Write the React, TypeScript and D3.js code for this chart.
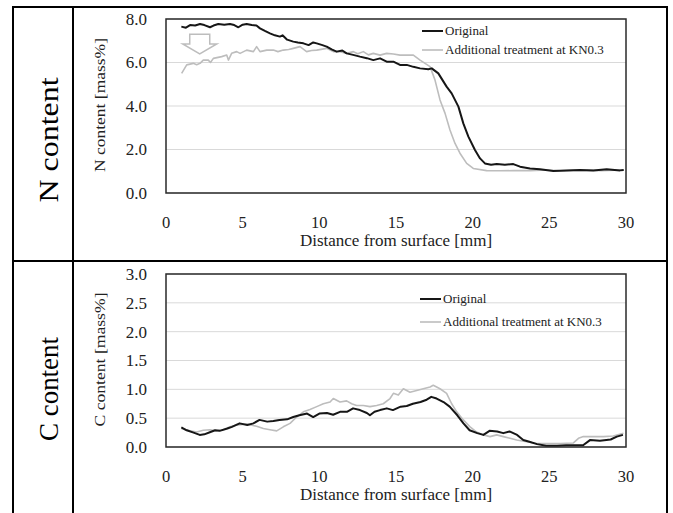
import * as d3 from "d3";

// distance [mm] vs content [mass%]
const nOriginal: [number, number][] = [
  [1.0, 7.65], [1.3, 7.6], [1.57, 7.72], [1.9, 7.7], [2.22, 7.77], [2.5, 7.72], [2.87, 7.62],
  [3.1, 7.7], [3.41, 7.77], [3.8, 7.74], [4.17, 7.77], [4.45, 7.72], [4.72, 7.62], [5.0, 7.74],
  [5.26, 7.77], [5.59, 7.72], [5.9, 7.7], [6.13, 7.57], [6.45, 7.45], [6.78, 7.34], [7.1, 7.25],
  [7.43, 7.19], [7.6, 7.25], [7.9, 7.05], [8.3, 6.96], [8.6, 6.92], [8.96, 6.88], [9.3, 6.8],
  [9.6, 6.92], [9.83, 6.88], [10.2, 6.8], [10.48, 6.73], [10.8, 6.6], [11.13, 6.5], [11.5, 6.55],
  [11.78, 6.42], [12.2, 6.35], [12.65, 6.27], [13.1, 6.2], [13.52, 6.11], [13.96, 6.19],
  [14.39, 6.04], [14.83, 6.04], [15.26, 5.89], [15.7, 5.89], [16.13, 5.8], [16.57, 5.73],
  [17.11, 5.69], [17.33, 5.73], [17.76, 5.5], [18.3, 4.89], [18.63, 4.58], [19.07, 3.97],
  [19.39, 3.2], [19.72, 2.59], [20.15, 1.98], [20.48, 1.59], [20.8, 1.36], [21.2, 1.3],
  [21.57, 1.33], [22.1, 1.3], [22.65, 1.33], [23.09, 1.21], [23.74, 1.13], [24.39, 1.09],
  [25.26, 1.01], [26.13, 1.03], [27.0, 1.06], [27.87, 1.04], [28.74, 1.09], [29.61, 1.04], [29.85, 1.06],
];

const nTreated: [number, number][] = [
  [1.02, 5.5], [1.35, 5.89], [1.78, 5.96], [2.0, 5.9], [2.22, 5.96], [2.43, 6.11], [2.76, 6.11],
  [2.9, 6.0], [3.09, 6.19], [3.63, 6.27], [3.96, 6.34], [4.07, 6.11], [4.28, 6.42], [4.61, 6.5],
  [4.83, 6.42], [5.26, 6.57], [5.7, 6.5], [5.91, 6.73], [6.13, 6.5], [6.57, 6.57], [7.0, 6.57],
  [7.3, 6.5], [7.65, 6.57], [8.0, 6.6], [8.3, 6.65], [8.74, 6.73], [9.17, 6.5], [9.5, 6.55],
  [9.83, 6.57], [10.48, 6.65], [10.91, 6.5], [11.35, 6.5], [11.78, 6.42], [12.22, 6.5],
  [12.5, 6.4], [12.87, 6.5], [13.2, 6.35], [13.52, 6.42], [13.96, 6.34], [14.39, 6.42],
  [14.83, 6.39], [15.26, 6.34], [15.7, 6.34], [16.13, 6.34], [16.57, 6.11], [17.22, 5.81],
  [17.54, 5.2], [17.87, 4.28], [18.2, 3.66], [18.52, 2.9], [18.85, 2.28], [19.17, 1.83],
  [19.61, 1.36], [20.04, 1.13], [20.91, 1.03], [21.8, 1.02], [22.65, 1.03], [23.74, 1.03],
  [24.83, 1.06], [25.7, 1.02], [26.6, 1.04], [27.5, 1.05], [28.4, 1.03], [29.3, 1.05], [29.85, 1.06],
];

const cOriginal: [number, number][] = [
  [1.0, 0.34], [1.35, 0.29], [1.8, 0.25], [2.2, 0.21], [2.5, 0.22], [2.9, 0.26], [3.2, 0.29],
  [3.5, 0.28], [4.0, 0.32], [4.3, 0.35], [4.8, 0.41], [5.3, 0.38], [5.7, 0.41], [6.1, 0.47],
  [6.6, 0.44], [7.0, 0.45], [7.4, 0.47], [7.9, 0.48], [8.3, 0.52], [8.7, 0.55], [9.2, 0.58],
  [9.6, 0.52], [10.0, 0.58], [10.5, 0.59], [10.9, 0.56], [11.35, 0.61], [11.8, 0.61],
  [12.2, 0.67], [12.65, 0.64], [13.1, 0.59], [13.3, 0.55], [13.6, 0.61], [13.96, 0.64],
  [14.4, 0.67], [14.8, 0.64], [15.3, 0.7], [15.7, 0.71], [16.1, 0.75], [16.6, 0.78], [17.0, 0.82],
  [17.3, 0.87], [17.65, 0.84], [18.1, 0.78], [18.5, 0.7], [19.0, 0.55], [19.4, 0.41], [19.8, 0.29],
  [20.3, 0.24], [20.7, 0.21], [21.1, 0.28], [21.6, 0.27], [22.0, 0.24], [22.4, 0.27], [22.9, 0.21],
  [23.3, 0.12], [23.7, 0.09], [24.2, 0.05], [24.8, 0.02], [25.5, 0.02], [26.1, 0.03], [26.8, 0.03],
  [27.2, 0.03], [27.65, 0.12], [28.3, 0.11], [29.0, 0.13], [29.4, 0.18], [29.8, 0.21],
];

const cTreated: [number, number][] = [
  [1.0, 0.32], [1.57, 0.28], [2.0, 0.26], [2.43, 0.29], [2.87, 0.3], [3.3, 0.28], [3.74, 0.3],
  [4.17, 0.35], [4.61, 0.38], [5.26, 0.4], [5.91, 0.36], [6.35, 0.32], [6.78, 0.3], [7.22, 0.28],
  [7.65, 0.35], [8.09, 0.41], [8.52, 0.52], [8.96, 0.61], [9.39, 0.65], [9.83, 0.7], [10.26, 0.75],
  [10.7, 0.78], [10.91, 0.84], [11.35, 0.78], [11.78, 0.8], [12.11, 0.75], [12.43, 0.72],
  [12.87, 0.72], [13.3, 0.7], [13.74, 0.72], [14.17, 0.75], [14.61, 0.84], [14.83, 0.93],
  [15.15, 0.9], [15.48, 1.01], [15.91, 0.95], [16.35, 0.98], [16.78, 1.01], [17.22, 1.04],
  [17.43, 1.07], [17.87, 1.01], [18.3, 0.93], [18.63, 0.75], [18.96, 0.61], [19.39, 0.47],
  [19.83, 0.35], [20.26, 0.26], [20.7, 0.21], [21.13, 0.18], [21.57, 0.21], [22.0, 0.18],
  [22.44, 0.15], [22.87, 0.12], [23.52, 0.09], [24.17, 0.06], [24.83, 0.06], [25.7, 0.06],
  [26.57, 0.07], [26.9, 0.15], [27.22, 0.18], [27.87, 0.18], [28.52, 0.18], [29.17, 0.19], [29.83, 0.24],
];

const xTicks = [0, 5, 10, 15, 20, 25, 30];
const nTicks = [0, 2, 4, 6, 8];
const cTicks = [0, 0.5, 1, 1.5, 2, 2.5, 3];
const legendNames = ["Original", "Additional treatment at KN0.3"];
const lineColors = ["#161616", "#bdbdbd"];
const lineWidths = [2, 1.6];

const SERIF = "Liberation Serif, DejaVu Serif, serif";

type PanelProps = {
  top: number;
  bottom: number;
  yMax: number;
  ticks: number[];
  series: [number, number][][];
  yTitle: string;
  legendY: number[];
  legendX: number;
  arrow?: boolean;
};

const Panel = ({ top, bottom, yMax, ticks, series, yTitle, legendY, legendX, arrow }: PanelProps) => {
  const left = 166, right = 626;
  const x = d3.scaleLinear().domain([0, 30]).range([left, right]);
  const y = d3.scaleLinear().domain([0, yMax]).range([bottom, top]);
  const line = d3.line<[number, number]>().x((d) => x(d[0])).y((d) => y(d[1]));

  // hollow down arrow showing the N drop
  let arrowPath = "";
  if (arrow) {
    const cx = x(2.2), y0 = y(7.3), yh = y(6.85), yt = y(6.4);
    arrowPath = `M${cx - 10},${y0} H${cx + 10} V${yh} H${cx + 17} L${cx},${yt} L${cx - 17},${yh} H${cx - 10} Z`;
  }

  return (
    <g fontFamily={SERIF}>
      {ticks.map((t) => (
        <line key={t} x1={left} x2={right} y1={y(t)} y2={y(t)} stroke="#d9d9d9" strokeWidth={1} />
      ))}
      {arrow && <path d={arrowPath} fill="#fff" stroke="#bdbdbd" strokeWidth={1.5} />}
      {series.map((s, i) => (
        <path key={i} d={line(s) || ""} fill="none" stroke={lineColors[i]} strokeWidth={lineWidths[i]} strokeLinejoin="round" />
      )).reverse()}
      <rect x={left} y={top} width={right - left} height={bottom - top} fill="none" stroke="#2a2a2a" strokeWidth={1.5} />
      {ticks.map((t) => (
        <text key={t} x={147} y={y(t)} dy="0.35em" textAnchor="end" fontSize={17} fill="#222">
          {t.toFixed(1)}
        </text>
      ))}
      {xTicks.map((t) => (
        <text key={t} x={x(t)} y={bottom + 35} textAnchor="middle" fontSize={16.5} fill="#222">
          {t}
        </text>
      ))}
      <text x={(left + right) / 2} y={bottom + 53} textAnchor="middle" fontSize={17} fill="#222">
        Distance from surface [mm]
      </text>
      <text
        transform={`translate(105,${(top + bottom) / 2 - 1}) rotate(-90)`}
        textAnchor="middle"
        fontSize={14}
        textLength={134}
        lengthAdjust="spacingAndGlyphs"
        fill="#222"
      >
        {yTitle}
      </text>
      {legendNames.map((name, i) => (
        <g key={name}>
          <line x1={legendX} x2={legendX + 21} y1={legendY[i]} y2={legendY[i]} stroke={lineColors[i]} strokeWidth={lineWidths[i]} />
          <text x={legendX + 23} y={legendY[i]} dy="0.33em" fontSize={13} fill="#222">
            {name}
          </text>
        </g>
      ))}
    </g>
  );
};

const App = () => {
  return (
    <div style={{ position: "absolute", left: 0, top: 0 }}>
      <svg width={673} height={513} style={{ display: "block" }} fontFamily={SERIF}>
        <rect width={673} height={513} fill="#fff" />
        {/* table frame */}
        <line x1={12} x2={668} y1={7} y2={7} stroke="#000" strokeWidth={2} />
        <line x1={12} x2={668} y1={261} y2={261} stroke="#000" strokeWidth={2} />
        <line x1={13} x2={13} y1={6} y2={513} stroke="#000" strokeWidth={2} />
        <line x1={73} x2={73} y1={6} y2={513} stroke="#000" strokeWidth={2} />
        <line x1={667} x2={667} y1={6} y2={513} stroke="#000" strokeWidth={2} />

        <text transform="translate(58,140) rotate(-90)" textAnchor="middle" fontSize={28} textLength={125} lengthAdjust="spacingAndGlyphs">
          N content
        </text>
        <text transform="translate(58,389) rotate(-90)" textAnchor="middle" fontSize={28} textLength={104} lengthAdjust="spacingAndGlyphs">
          C content
        </text>

        <Panel
          top={19}
          bottom={193}
          yMax={8}
          ticks={nTicks}
          series={[nOriginal, nTreated]}
          yTitle="N content  [mass%]"
          legendY={[31, 50]}
          legendX={422}
          arrow
        />
        <Panel
          top={274}
          bottom={447}
          yMax={3}
          ticks={cTicks}
          series={[cOriginal, cTreated]}
          yTitle="C content [mass%]"
          legendY={[299, 322]}
          legendX={420}
        />
      </svg>
    </div>
  );
};

export default App;
